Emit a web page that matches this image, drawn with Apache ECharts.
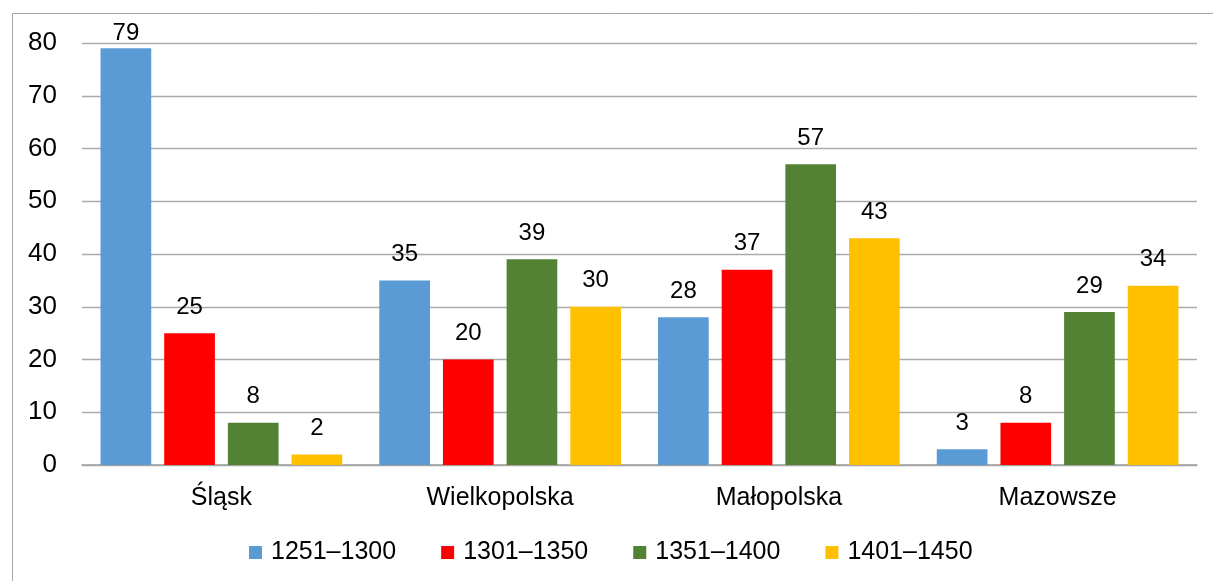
<!DOCTYPE html>
<html>
<head>
<meta charset="utf-8">
<script src="https://cdn.jsdelivr.net/npm/echarts@6/dist/echarts.min.js"></script>
<style>
  html, body { margin: 0; padding: 0; background: #fff; }
  #chart { width: 1213px; height: 581px; }
</style>
</head>
<body>
<div id="chart"></div>
<script>
// regions and periods
const regions = ["Śląsk", "Wielkopolska", "Małopolska", "Mazowsze"];
const periods = ["1251–1300", "1301–1350", "1351–1400", "1401–1450"];

// values per period, one per region
const p1251 = [79, 35, 28, 3];
const p1301 = [25, 20, 37, 8];
const p1351 = [8, 39, 57, 29];
const p1401 = [2, 30, 43, 34];

const yTicks = [0, 10, 20, 30, 40, 50, 60, 70, 80];

const colors = ["#5B9BD5", "#FF0000", "#548235", "#FFC000"];
const seriesData = [p1251, p1301, p1351, p1401];

const font = "Liberation Sans, Arial, sans-serif";

const chart = echarts.init(document.getElementById("chart"));

const series = periods.map((name, i) => ({
    name: name,
    type: "bar",
    // the tallest bar's label is squeezed under the top of the frame
    data: seriesData[i].map(v => v >= 75 ? { value: v, label: { distance: 3 } } : v),
    barGap: "25.6%",
    barCategoryGap: "13.3%",
    itemStyle: { color: colors[i] },
    label: {
        show: true,
        position: "top",
        distance: 14,
        color: "#000",
        fontSize: 24,
        fontFamily: font
    }
}));

chart.setOption({
    animation: false,
    backgroundColor: "#fff",
    color: colors,
    graphic: [{
        type: "rect",
        shape: { x: 12.5, y: 13.5, width: 1300, height: 700 },
        style: { fill: "none", stroke: "#a6a6a6", lineWidth: 1 },
        silent: true,
        z: -1
    }],
    grid: {
        left: 82,
        right: 16,
        top: 43,
        bottom: 116
    },
    legend: {
        data: periods,
        left: 249,
        top: 540,
        padding: 0,
        itemWidth: 13,
        itemHeight: 13,
        itemGap: 45,
        icon: "rect",
        textStyle: {
            color: "#000",
            fontSize: 25,
            fontFamily: font,
            padding: [0, 0, 0, 4]
        }
    },
    xAxis: {
        type: "category",
        data: regions,
        axisTick: { show: false },
        axisLine: { lineStyle: { color: "#a0a0a0", width: 1.5 } },
        axisLabel: {
            color: "#000",
            fontSize: 25,
            fontFamily: font,
            margin: 21
        }
    },
    yAxis: {
        type: "value",
        min: yTicks[0],
        max: yTicks[yTicks.length - 1],
        interval: 10,
        axisLine: { show: false },
        axisTick: { show: false },
        splitLine: { lineStyle: { color: "#aaaaaa", width: 1.3 } },
        axisLabel: {
            color: "#000",
            fontSize: 26,
            fontFamily: font,
            margin: 25
        }
    },
    series: series
});
</script>
</body>
</html>
